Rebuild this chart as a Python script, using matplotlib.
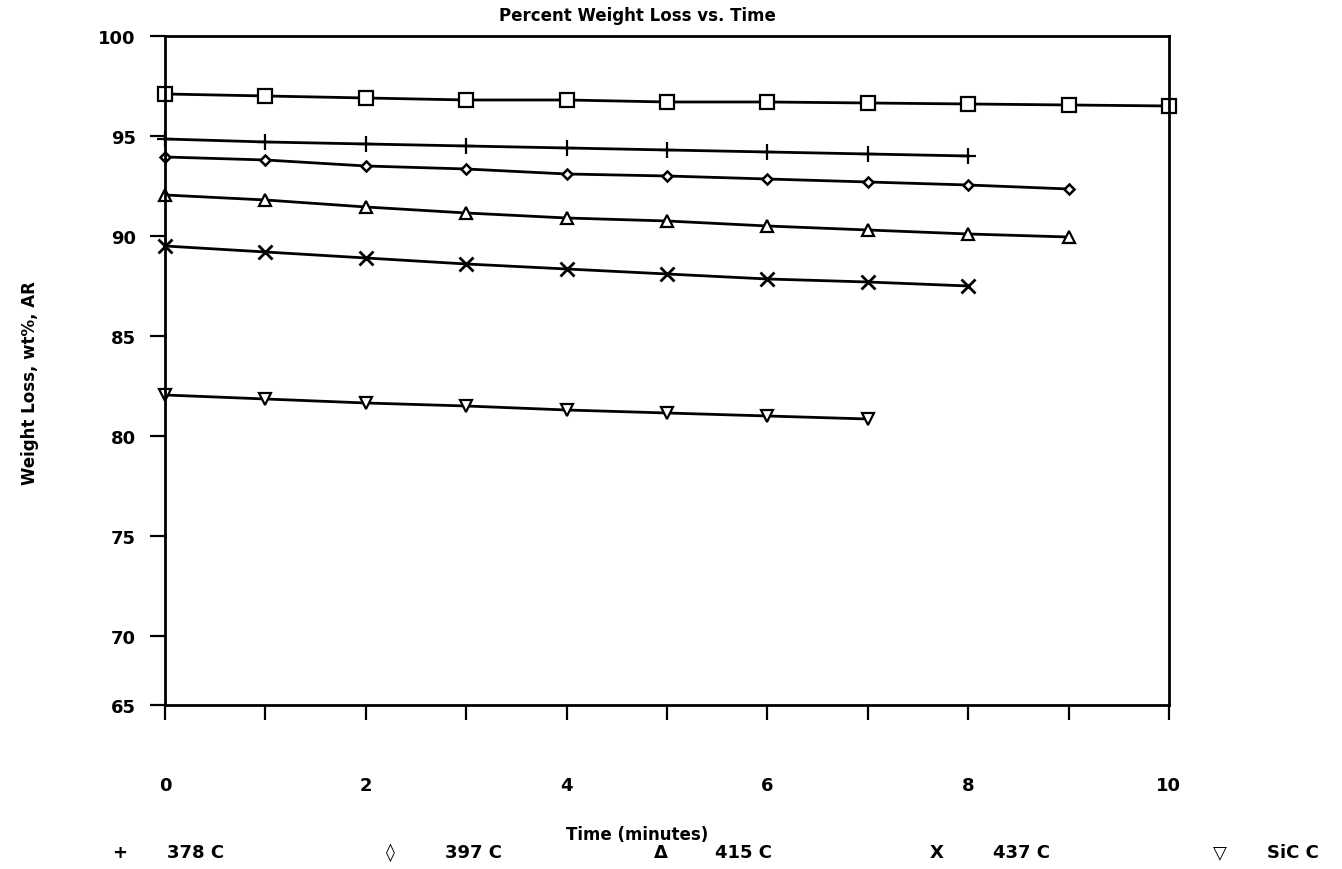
import numpy as np
import matplotlib
matplotlib.use('Agg')
import matplotlib.pyplot as plt

# minutes
time = [0, 1, 2, 3, 4, 5, 6, 7, 8, 9, 10]

# percent weight remaining for each run
square = [97.1, 97.0, 96.9, 96.8, 96.8, 96.7, 96.7, 96.65, 96.6, 96.55, 96.5]
run378 = [94.85, 94.7, 94.6, 94.5, 94.4, 94.3, 94.2, 94.1, 94.0]
run397 = [93.95, 93.8, 93.5, 93.35, 93.1, 93.0, 92.85, 92.7, 92.55, 92.35]
run415 = [92.05, 91.8, 91.45, 91.15, 90.9, 90.75, 90.5, 90.3, 90.1, 89.95]
run437 = [89.5, 89.2, 88.9, 88.6, 88.35, 88.1, 87.85, 87.7, 87.5]
runSiC = [82.05, 81.85, 81.65, 81.5, 81.3, 81.15, 81.0, 80.85]

legendLabels = ['378 C', '397 C', '415 C', '437 C', 'SiC C']
legendSymbols = ['+', '\u25ca', '\u0394', 'X', '\u25bd']

yTicks = [70, 75, 80, 85, 90, 95, 100]
xTickLabels = ['0', '', '2', '', '4', '', '6', '', '8', '', '10']

plt.rcParams['font.family'] = ['DejaVu Sans']
plt.rcParams['font.weight'] = 'bold'

fig = plt.figure(figsize=(13.42, 8.7), dpi=100)
ax = fig.add_axes([0.123, 0.1885, 0.748, 0.769])

lw = 2.0
ax.plot(time, square, color='black', lw=lw, marker='s', ms=10,
        mfc='white', mec='black', mew=1.6, clip_on=False)
ax.plot(time[:len(run378)], run378, color='black', lw=lw, marker='+', ms=12,
        mew=1.6, clip_on=False)
ax.plot(time[:len(run397)], run397, color='black', lw=lw, marker='D', ms=5,
        mfc='white', mec='black', mew=1.8, clip_on=False)
ax.plot(time[:len(run415)], run415, color='black', lw=lw, marker='^', ms=8,
        mfc='white', mec='black', mew=1.6, clip_on=False)
ax.plot(time[:len(run437)], run437, color='black', lw=lw, marker='x', ms=10,
        mew=2.0, clip_on=False)
ax.plot(time[:len(runSiC)], runSiC, color='black', lw=lw, marker='v', ms=8,
        mfc='white', mec='black', mew=1.6, clip_on=False)

# the printed axis stops a little short of 65, tick there still says 65
yBottom = 66.55
ax.set_xlim(0, 10)
ax.set_ylim(yBottom, 100)
ax.set_xticks(time)
ax.set_xticklabels(xTickLabels)
ax.set_yticks([yBottom] + yTicks)
ax.set_yticklabels(['65'] + [str(t) for t in yTicks])

for s in ax.spines.values():
    s.set_linewidth(2.0)
ax.tick_params(axis='both', direction='out', length=11, width=1.6, labelsize=13)
ax.tick_params(axis='x', pad=40)
ax.tick_params(axis='y', pad=10)

fig.text(0.475, 0.982, 'Percent Weight Loss vs. Time', ha='center', va='center',
         fontsize=12)
fig.text(0.022, 1 - 383 / 870, 'Weight Loss, wt%, AR', rotation=90,
         ha='center', va='center', fontsize=12)
fig.text(0.475, 1 - 835 / 870, 'Time (minutes)', ha='center', va='center',
         fontsize=12)

# legend row under the axis title
symX = [120, 390, 661, 937, 1220]
labX = [167, 445, 715, 993, 1267]
for i in range(len(legendLabels)):
    fig.text(symX[i] / 1342, 1 - 853 / 870, legendSymbols[i], ha='center',
             va='center', fontsize=13)
    fig.text(labX[i] / 1342, 1 - 853 / 870, legendLabels[i], ha='left',
             va='center', fontsize=13)

fig.savefig('out.png', dpi=100)
